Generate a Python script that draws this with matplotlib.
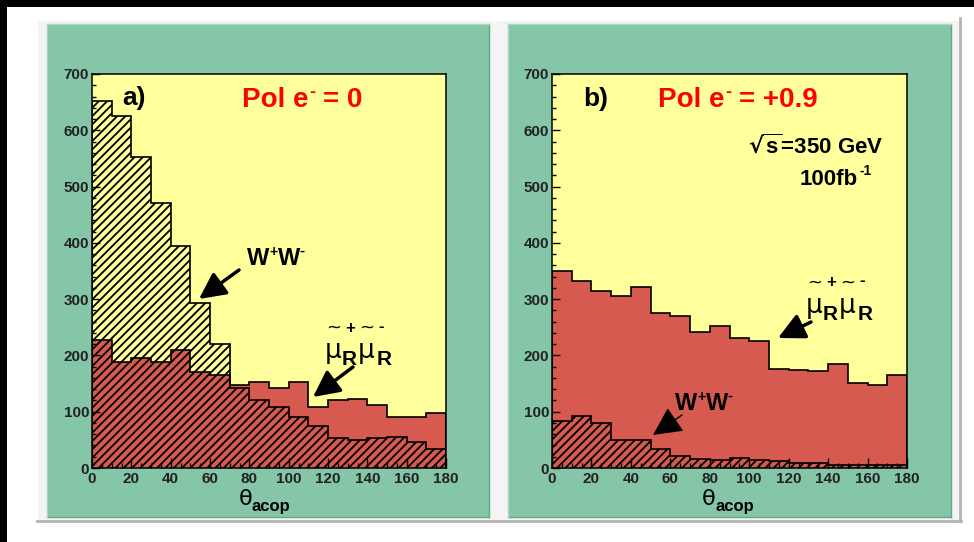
import numpy as np
import matplotlib.pyplot as plt
from matplotlib.patches import Rectangle
from matplotlib.lines import Line2D

plt.rcParams['font.family'] = ['Liberation Sans', 'DejaVu Sans']
plt.rcParams['font.weight'] = 'bold'
plt.rcParams['mathtext.default'] = 'regular'
plt.rcParams['hatch.linewidth'] = 1.3

W, H = 974, 542

# bin edges in theta_acop (degrees)
edges = np.arange(0, 190, 10)

# a) Pol e- = 0
ww_a = [652, 625, 553, 470, 395, 293, 221, 142, 120, 108, 90, 75, 54, 49, 53, 55, 46, 34]
smu_a = [228, 189, 195, 188, 209, 170, 166, 148, 153, 143, 153, 108, 121, 122, 112, 90, 90, 98]

# b) Pol e- = +0.9
ww_b = [83, 92, 80, 50, 50, 33, 22, 16, 15, 18, 15, 12, 9, 9, 6, 6, 5, 5]
smu_b = [350, 333, 315, 306, 321, 275, 270, 241, 253, 231, 226, 176, 175, 173, 185, 151, 148, 166]

green = '#86c6a8'
yellow = '#ffff9c'
red = '#d75a50'


def fx(px):
    return px / W


def fy(py):
    return 1 - py / H


def frect(x0, y0, x1, y1, **kw):
    # rectangle given in image pixels (top-left origin)
    fig.add_artist(Rectangle((fx(x0), fy(y1)), fx(x1) - fx(x0), fy(y0) - fy(y1),
                             transform=fig.transFigure, zorder=-10, **kw))


def fline(xs, ys, **kw):
    fig.add_artist(Line2D([fx(x) for x in xs], [fy(y) for y in ys],
                          transform=fig.transFigure, zorder=-9, **kw))


def ftext(px, py, s, **kw):
    return fig.text(fx(px), fy(py), s, **kw)


def pieces(px, py, parts, **kw):
    # chain of text pieces on one baseline: (text, size, dy, gap after)
    x = px
    for s, size, dy, gap in parts:
        t = ftext(x, py + dy, s, fontsize=size, ha='left', va='baseline', **kw)
        x += t.get_window_extent(renderer).width + gap


def arrow(ax, tail, tip, lw, hl, hw):
    ax.annotate('', xy=(tip[0], H - tip[1]), xycoords='figure pixels',
                xytext=(tail[0], H - tail[1]), textcoords='figure pixels',
                arrowprops=dict(arrowstyle='-|>,head_length=%s,head_width=%s' % (hl, hw),
                                color='black', lw=lw, shrinkA=0, shrinkB=0,
                                mutation_scale=20))


def smu_label(x0, yb):
    # ~+ ~-  over  mu_R mu_R
    ftext(x0, yb, '\u03bc', fontsize=19, fontweight='normal', family='DejaVu Sans',
          ha='left', va='baseline')
    ftext(x0 + 17, yb + 7, 'R', fontsize=15, ha='left', va='baseline')
    ftext(x0 + 33, yb, '\u03bc', fontsize=19, fontweight='normal', family='DejaVu Sans',
          ha='left', va='baseline')
    ftext(x0 + 52, yb + 7, 'R', fontsize=15, ha='left', va='baseline')
    ftext(x0 + 9, yb - 30, '~', fontsize=13, fontweight='normal', family='DejaVu Sans',
          ha='center', va='center')
    ftext(x0 + 42, yb - 30, '~', fontsize=13, fontweight='normal', family='DejaVu Sans',
          ha='center', va='center')
    ftext(x0 + 25, yb - 30, '+', fontsize=12, ha='center', va='center')
    ftext(x0 + 56, yb - 32, '-', fontsize=12, ha='center', va='center')


fig = plt.figure(figsize=(W / 100, H / 100), dpi=100)
fig.patch.set_facecolor('white')
renderer = fig.canvas.get_renderer()

# frame of the screenshot
frect(0, 0, W, 7, facecolor='black', edgecolor='none')
frect(0, 0, 7, H, facecolor='black', edgecolor='none')
frect(38, 21, 959, 520, facecolor='#f4f4f4', edgecolor='none')
fline([37, 961], [521, 521], color='#b4b4b4', lw=2)
fline([960, 960], [18, 521], color='#b4b4b4', lw=2)

# green pads
for x0, x1 in [(47, 489), (508, 951)]:
    frect(x0, 24, x1, 517, facecolor=green, edgecolor='none')
    fline([x1, x1], [24, 517], color='#5fa884', lw=1)
    fline([x0, x1], [517, 517], color='#5fa884', lw=1)
    fline([x0, x0], [24, 517], color='#a8d8c0', lw=1)
    fline([x0, x1], [24, 24], color='#a8d8c0', lw=1)

ax_a = fig.add_axes([fx(92), fy(468), (446 - 92) / W, (468 - 74) / H])
ax_b = fig.add_axes([fx(552), fy(468), (907 - 552) / W, (468 - 74) / H])

for ax, ww, smu in [(ax_a, ww_a, smu_a), (ax_b, ww_b, smu_b)]:
    ax.set_facecolor(yellow)
    ax.stairs(smu, edges, fill=True, facecolor=red, edgecolor='black', linewidth=1.2)
    ax.stairs(ww, edges, fill=True, facecolor='none', edgecolor='black',
              hatch='////', linewidth=1.2)
    ax.set_xlim(0, 180)
    ax.set_ylim(0, 700)
    ax.set_xticks(np.arange(0, 181, 20))
    ax.set_xticks(np.arange(0, 181, 5), minor=True)
    ax.set_yticks(np.arange(0, 701, 100))
    ax.set_yticks(np.arange(0, 701, 20), minor=True)
    ax.tick_params(which='both', direction='in', top=False, right=False,
                   labelsize=11, colors='black', labelcolor='#222222', width=1)
    ax.tick_params(axis='x', which='major', length=7, pad=3)
    ax.tick_params(axis='x', which='minor', length=3.5)
    ax.tick_params(axis='y', which='major', length=6, pad=2)
    ax.tick_params(axis='y', which='minor', length=3)
    for sp in ax.spines.values():
        sp.set_linewidth(1.1)

# x axis titles
for x_theta in [246, 709]:
    ftext(x_theta, 499, '\u03b8', fontsize=16, fontweight='normal', family='DejaVu Sans',
          ha='center', va='center')
    ftext(x_theta + 6, 511, 'acop', fontsize=12, ha='left', va='baseline')

# panel a texts
ftext(122, 98, 'a)', fontsize=19, ha='left', va='center')
pieces(242, 107, [('Pol e', 20, 0, 1), ('-', 13, -10, 7), ('= 0', 20, 0, 0)],
       color='#ff0000')
pieces(247, 265, [('W', 17, 0, 0), ('+', 10, -9, 0), ('W', 17, 0, 0), ('-', 11, -10, 0)])
arrow(ax_a, (239, 270), (199, 299), 2.5, 0.8, 0.4)
smu_label(325, 358)
arrow(ax_a, (353, 367), (313, 397), 2.5, 0.8, 0.4)

# panel b texts
ftext(583, 99, 'b)', fontsize=19, ha='left', va='center')
pieces(658, 107, [('Pol e', 20, 0, 1), ('-', 13, -10, 7), ('= +0.9', 20, 0, 0)],
       color='#ff0000')
ftext(748, 146, r'$\sqrt{s}$=350 GeV', fontsize=16, ha='left', va='center')
pieces(800, 185, [('100fb', 16, 0, 1), ('-1', 10, -10, 0)])
smu_label(806, 313)
arrow(ax_b, (811, 322), (778, 338), 2.5, 0.8, 0.4)
pieces(675, 410, [('W', 17, 0, 0), ('+', 10, -9, 0), ('W', 17, 0, 0), ('-', 11, -10, 0)])
arrow(ax_b, (682, 415), (653, 435), 1.0, 0.9, 0.45)

fig.savefig('out.png', dpi=100)
